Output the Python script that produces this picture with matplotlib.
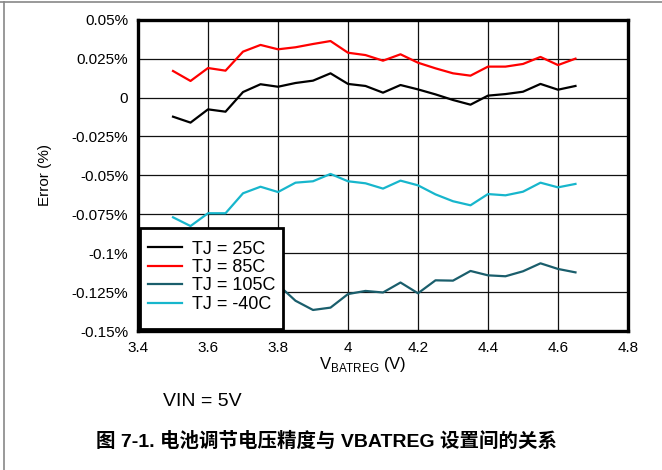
import matplotlib
matplotlib.use('Agg')
import matplotlib.pyplot as plt
from matplotlib.lines import Line2D
from matplotlib.patches import Rectangle

plt.rcParams['font.family'] = ['Liberation Sans', 'Noto Sans CJK SC', 'DejaVu Sans']
plt.rcParams['mathtext.fontset'] = 'custom'
plt.rcParams['mathtext.rm'] = 'Liberation Sans'

vbat = [3.5, 3.55, 3.6, 3.65, 3.7, 3.75, 3.8, 3.85, 3.9, 3.95, 4.0, 4.05,
        4.1, 4.15, 4.2, 4.25, 4.3, 4.35, 4.4, 4.45, 4.5, 4.55, 4.6, 4.65]

err_25 = [-0.0123, -0.0161, -0.0076, -0.0091, 0.0035, 0.0085, 0.0069, 0.0093,
          0.0108, 0.0155, 0.0087, 0.0074, 0.0031, 0.0080, 0.0052, 0.0020,
          -0.0016, -0.0046, 0.0012, 0.0022, 0.0037, 0.0087, 0.0050, 0.0074]
err_85 = [0.0170, 0.0106, 0.0189, 0.0172, 0.0294, 0.0337, 0.0309, 0.0322,
          0.0343, 0.0362, 0.0287, 0.0272, 0.0236, 0.0277, 0.0223, 0.0187,
          0.0155, 0.0140, 0.0198, 0.0198, 0.0215, 0.0260, 0.0208, 0.0249]
err_105 = [-0.1180, -0.1195, -0.1170, -0.1180, -0.1160, -0.1175, -0.1200, -0.1303,
           -0.1362, -0.1347, -0.1260, -0.1240, -0.1250, -0.1186, -0.1255, -0.1172,
           -0.1174, -0.1112, -0.1140, -0.1146, -0.1114, -0.1063, -0.1099, -0.1121]
err_m40 = [-0.0768, -0.0824, -0.0742, -0.0742, -0.0614, -0.0572, -0.0606, -0.0546,
           -0.0537, -0.0490, -0.0537, -0.0550, -0.0584, -0.0533, -0.0563, -0.0621,
           -0.0665, -0.0691, -0.0619, -0.0627, -0.0604, -0.0546, -0.0576, -0.0554]

labels = ['TJ = 25C', 'TJ = 85C', 'TJ = 105C', 'TJ = -40C']
colors = ['#000000', '#ff0000', '#1a5e6c', '#17b6cc']

xticks = [3.4, 3.6, 3.8, 4.0, 4.2, 4.4, 4.6, 4.8]
xticklabels = ['3.4', '3.6', '3.8', '4', '4.2', '4.4', '4.6', '4.8']
yticks = [0.05, 0.025, 0, -0.025, -0.05, -0.075, -0.1, -0.125, -0.15]
yticklabels = ['0.05%', '0.025%', '0', '-0.025%', '-0.05%', '-0.075%', '-0.1%', '-0.125%', '-0.15%']

fig = plt.figure(figsize=(6.62, 4.70), dpi=100)
ax = fig.add_axes([0.2085, 0.2947, 0.7401, 0.6638])

for data, lab, c in zip([err_25, err_85, err_105, err_m40], labels, colors):
    ax.plot(vbat, data, color=c, lw=1.6, label=lab)

ax.set_xlim(3.4, 4.8)
ax.set_ylim(-0.15, 0.05)
ax.set_xticks(xticks)
ax.set_xticklabels(xticklabels)
ax.set_yticks(yticks)
ax.set_yticklabels(yticklabels)
ax.tick_params(length=0, labelsize=11, pad=7)
ax.grid(True, color='#111111', lw=0.9)
for s in ax.spines.values():
    s.set_linewidth(2.4)
    s.set_color('black')

# legend box is taller than the entries, so draw it separately
ax.add_patch(Rectangle((0.004, 0.008), 0.292, 0.324, transform=ax.transAxes,
                       facecolor='white', edgecolor='black', lw=2, zorder=4,
                       clip_on=False))
leg = ax.legend(loc='upper left', bbox_to_anchor=(0.0204, 0.2915), borderaxespad=0,
                fontsize=13, frameon=False, handlelength=1.88, handletextpad=0.55,
                labelspacing=0.08, borderpad=0)
leg.set_zorder(5)

ax.set_ylabel('Error (%)', fontsize=11)
ax.yaxis.set_label_coords(-0.176, 0.5)

fig.text(363 / 662, 1 - 369 / 470, r'V$_\mathregular{BATREG}$ (V)', fontsize=12,
         ha='center', va='baseline')
fig.text(163 / 662, 1 - 402 / 470, 'VIN = 5V', fontsize=14, ha='left', va='center')
fig.text(326 / 662, 1 - 441 / 470, '图 7-1. 电池调节电压精度与 VBATREG 设置间的关系',
         fontsize=14, fontweight='bold', ha='center', va='center')

# page border lines (top and left only)
fig.add_artist(Line2D([0, 1], [1 - 2 / 470, 1 - 2 / 470], color='#888888', lw=1.2))
fig.add_artist(Line2D([4 / 662, 4 / 662], [0, 1 - 2 / 470], color='#888888', lw=1.2))

fig.savefig('out.png', dpi=100)
